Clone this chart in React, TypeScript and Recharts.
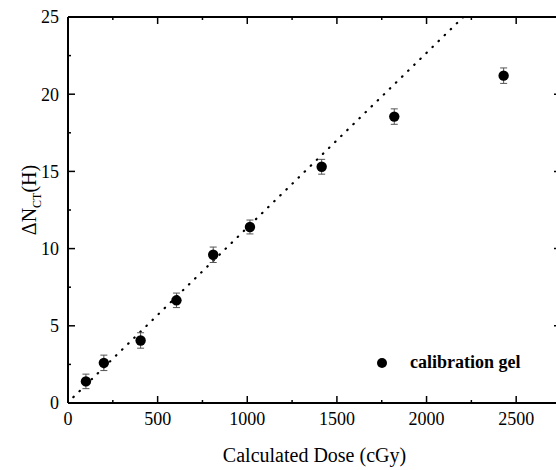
import { ComposedChart, Scatter, Line, XAxis, YAxis, ErrorBar, Label } from "recharts"

const doses = [100, 200, 405, 605, 810, 1015, 1415, 1820, 2430]
const deltaN = [1.4, 2.6, 4.05, 6.65, 9.6, 11.4, 15.3, 18.55, 21.2]
const errors = [0.47, 0.5, 0.5, 0.47, 0.5, 0.45, 0.48, 0.5, 0.5]

const fitX = [30, 2205]
const fitY = [0.38, 25]

const xMajor = [0, 500, 1000, 1500, 2000, 2500]
const xMinor = [250, 750, 1250, 1750, 2250, 2750]
const yMajor = [0, 5, 10, 15, 20, 25]
const yMinor = [2.5, 7.5, 12.5, 17.5, 22.5]

const points = doses.map((x, i) => ({ x, y: deltaN[i], err: errors[i] }))
const fitLine = fitX.map((x, i) => ({ x, fit: fitY[i] }))

const serif = "Times New Roman"
const tickStyle = { fontFamily: serif, fontSize: 18, fill: "#000" }
const blank = () => ""

function YTitle(props: any) {
  const vb = props.viewBox
  const cx = 36
  const cy = vb.y + vb.height / 2 - 10
  return (
    <text
      transform={`translate(${cx},${cy}) rotate(-90)`}
      textAnchor="middle"
      fontFamily={serif}
      fontSize={20}
      fill="#000"
    >
      <tspan>ΔN</tspan>
      <tspan fontSize={12} dy={5}>CT</tspan>
      <tspan dy={-5}>(H)</tspan>
    </text>
  )
}

export default function App() {
  const axisLine = { stroke: "#000", strokeWidth: 2 }
  const tickLine = { stroke: "#000", strokeWidth: 1.5 }
  return (
    <div style={{ position: "absolute", left: 0, top: 0, width: 556, height: 470, background: "#fff", overflow: "hidden", fontFamily: serif }}>
      <ComposedChart width={556} height={470} margin={{ top: 15, right: -7, bottom: 65, left: 66 }}>
        <XAxis
          xAxisId="b"
          dataKey="x"
          type="number"
          domain={[0, 2750]}
          ticks={xMajor}
          height={1}
          axisLine={axisLine}
          tickLine={tickLine}
          tickSize={-7}
          tickMargin={16}
          tick={tickStyle}
          allowDataOverflow
        >
          <Label
            value="Calculated Dose (cGy)"
            position="bottom"
            offset={44}
            fontFamily={serif}
            fontSize={20}
            fill="#000"
          />
        </XAxis>
        <XAxis xAxisId="bm" dataKey="x" type="number" domain={[0, 2750]} ticks={xMinor} height={1}
          axisLine={false} tickLine={tickLine} tickSize={-4} tickFormatter={blank} allowDataOverflow />
        <XAxis xAxisId="t" orientation="top" dataKey="x" type="number" domain={[0, 2750]} ticks={xMajor} height={1}
          axisLine={axisLine} tickLine={tickLine} tickSize={-7} tickFormatter={blank} allowDataOverflow />
        <XAxis xAxisId="tm" orientation="top" dataKey="x" type="number" domain={[0, 2750]} ticks={xMinor} height={1}
          axisLine={false} tickLine={tickLine} tickSize={-4} tickFormatter={blank} allowDataOverflow />
        <YAxis
          yAxisId="l"
          type="number"
          domain={[0, 25]}
          ticks={yMajor}
          width={1}
          axisLine={axisLine}
          tickLine={tickLine}
          tickSize={-7}
          tickMargin={16}
          tick={tickStyle}
          allowDataOverflow
        >
          <Label content={YTitle} />
        </YAxis>
        <YAxis yAxisId="lm" type="number" domain={[0, 25]} ticks={yMinor} width={1}
          axisLine={false} tickLine={tickLine} tickSize={-4} tickFormatter={blank} allowDataOverflow />
        <YAxis yAxisId="r" orientation="right" type="number" domain={[0, 25]} ticks={yMajor} width={1}
          axisLine={axisLine} tickLine={tickLine} tickSize={-7} tickFormatter={blank} allowDataOverflow />
        <YAxis yAxisId="rm" orientation="right" type="number" domain={[0, 25]} ticks={yMinor} width={1}
          axisLine={false} tickLine={tickLine} tickSize={-4} tickFormatter={blank} allowDataOverflow />
        <Line
          xAxisId="b"
          yAxisId="l"
          data={fitLine}
          dataKey="fit"
          stroke="#000"
          strokeWidth={2.2}
          strokeDasharray="0.5 8"
          strokeLinecap="round"
          dot={false}
          activeDot={false}
          isAnimationActive={false}
        />
        <Scatter
          xAxisId="b"
          yAxisId="l"
          data={points}
          dataKey="y"
          name="calibration gel"
          isAnimationActive={false}
          shape={(p: any) => <circle cx={p.cx} cy={p.cy} r={5.2} fill="#000" />}
        >
          <ErrorBar dataKey="err" direction="y" width={3.5} stroke="#555" strokeWidth={1} isAnimationActive={false} />
        </Scatter>
      </ComposedChart>
      <svg width={176} height={30} style={{ position: "absolute", left: 376, top: 352 }}>
        <circle cx={6} cy={11} r={5} fill="#000" />
        <text x={34} y={16} fontFamily={serif} fontSize={18} fontWeight="bold" fill="#000">
          calibration gel
        </text>
      </svg>
    </div>
  )
}
